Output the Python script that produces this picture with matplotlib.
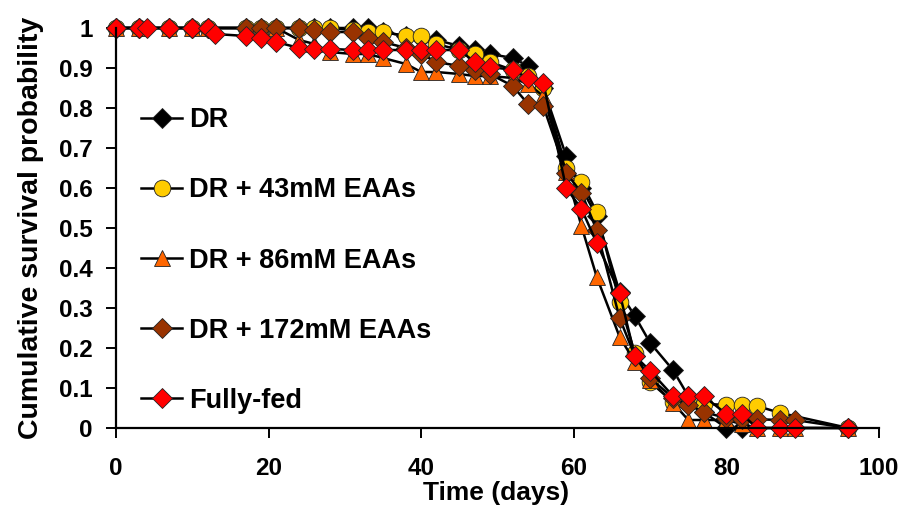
import matplotlib
matplotlib.use("Agg")
import matplotlib.pyplot as plt

plt.rcParams['font.family'] = ['Liberation Sans', 'DejaVu Sans']
plt.rcParams['font.weight'] = 'bold'

# Census days and cumulative survival for each diet
dr_days = [0, 3, 7, 10, 12, 17, 19, 21, 24, 26, 28, 31, 33, 35, 38, 40, 42, 45, 47,
           49, 52, 54, 56, 59, 61, 63, 66, 68, 70, 73, 75, 77, 80, 82]
dr_surv = [1, 1, 1, 1, 1, 1, 1, 1, 1, 1, 1, 1, 1, 0.99, 0.98, 0.975, 0.97, 0.955, 0.945,
           0.935, 0.925, 0.905, 0.85, 0.68, 0.60, 0.53, 0.34, 0.28, 0.213, 0.145, 0.08,
           0.04, 0, 0]

eaa43_days = [0, 3, 7, 10, 12, 17, 19, 21, 24, 26, 28, 31, 33, 35, 38, 40, 42, 45, 47,
              49, 52, 54, 56, 59, 61, 63, 66, 68, 70, 73, 75, 77, 80, 82, 84, 87, 96]
eaa43_surv = [1, 1, 1, 1, 1, 1, 1, 1, 1, 1, 1, 0.995, 0.99, 0.99, 0.98, 0.98, 0.96,
              0.945, 0.935, 0.915, 0.895, 0.88, 0.85, 0.65, 0.615, 0.54, 0.315, 0.187,
              0.115, 0.065, 0.062, 0.06, 0.058, 0.058, 0.055, 0.038, 0]

eaa86_days = [0, 3, 7, 10, 12, 17, 19, 21, 24, 26, 28, 31, 33, 35, 38, 40, 42, 45, 47,
              49, 52, 54, 56, 59, 61, 63, 66, 68, 70, 73, 75, 77, 80, 82, 84, 87, 89, 96]
eaa86_surv = [1, 1, 1, 1, 1, 1, 1, 1, 0.97, 0.96, 0.94, 0.935, 0.935, 0.925, 0.91, 0.89,
              0.89, 0.885, 0.88, 0.88, 0.875, 0.86, 0.83, 0.64, 0.505, 0.378, 0.228,
              0.165, 0.12, 0.063, 0.02, 0.02, 0.02, 0.01, 0, 0, 0, 0]

eaa172_days = [0, 3, 7, 10, 12, 17, 19, 21, 24, 26, 28, 31, 33, 35, 38, 40, 42, 45, 47,
               49, 52, 54, 56, 59, 61, 63, 66, 68, 70, 73, 75, 77, 80, 82, 84, 87, 89, 96]
eaa172_surv = [1, 1, 1, 1, 1, 1, 1, 1, 1, 0.995, 0.99, 0.99, 0.975, 0.965, 0.95, 0.935,
               0.915, 0.905, 0.895, 0.885, 0.855, 0.81, 0.805, 0.638, 0.588, 0.495,
               0.275, 0.18, 0.125, 0.075, 0.058, 0.04, 0.025, 0.022, 0.022, 0.02, 0.02, 0]

fed_days = [0, 3, 4, 7, 10, 12, 13, 17, 19, 21, 24, 26, 28, 31, 33, 35, 38, 40, 42, 45,
            47, 49, 52, 54, 56, 59, 61, 63, 66, 68, 70, 73, 75, 77, 80, 82, 84, 87, 89, 96]
fed_surv = [1, 1, 1, 1, 1, 1, 0.985, 0.98, 0.975, 0.965, 0.95, 0.948, 0.948, 0.945, 0.945,
            0.945, 0.945, 0.945, 0.945, 0.945, 0.915, 0.903, 0.895, 0.875, 0.863, 0.60,
            0.548, 0.463, 0.338, 0.18, 0.143, 0.08, 0.08, 0.08, 0.035, 0.035, 0, 0, 0, 0]

labels = ['DR', 'DR + 43mM EAAs', 'DR + 86mM EAAs', 'DR + 172mM EAAs', 'Fully-fed']

fig = plt.figure(figsize=(9.04, 5.08), dpi=100)
ax = fig.add_axes([116 / 904, 80 / 508, 763 / 904, 400 / 508])

series = [
    (dr_days, dr_surv, 'D', '#000000', 10.0),
    (eaa43_days, eaa43_surv, 'o', '#FFCC00', 12.0),
    (eaa86_days, eaa86_surv, '^', '#FF6600', 12.0),
    (eaa172_days, eaa172_surv, 'D', '#993300', 10.0),
    (fed_days, fed_surv, 'D', '#FF0000', 10.0),
]

for (d, s, m, c, ms), lab in zip(series, labels):
    ax.plot(d, s, color='black', lw=1.8, marker=m, markersize=ms,
            markerfacecolor=c, markeredgecolor='#222222', markeredgewidth=0.6,
            label=lab, clip_on=False)

ax.set_xlim(0, 100)
ax.set_ylim(0, 1)
ax.set_xticks(range(0, 101, 20))
ax.set_yticks([i / 10 for i in range(11)])
ax.set_yticklabels(['0', '0.1', '0.2', '0.3', '0.4', '0.5', '0.6', '0.7', '0.8', '0.9', '1'])

for side in ('top', 'right'):
    ax.spines[side].set_visible(False)
for side in ('left', 'bottom'):
    ax.spines[side].set_linewidth(1.6)

ax.tick_params(axis='both', direction='out', length=7, width=1.4)
ax.tick_params(axis='x', pad=14, labelsize=17.5)
ax.tick_params(axis='y', pad=10, labelsize=17.5)

ax.set_xlabel('Time (days)', fontsize=19, fontweight='bold')
ax.xaxis.set_label_coords(0.498, -0.133)
ax.set_ylabel('Cumulative survival probability', fontsize=20.5, fontweight='bold')
ax.yaxis.set_label_coords(-0.094, 0.5)

leg = ax.legend(loc='upper left', bbox_to_anchor=(0.019, 0.829), frameon=False,
                fontsize=19.5, handlelength=1.5, handletextpad=0.25,
                labelspacing=1.63, borderaxespad=0)

fig.savefig('out.png', dpi=100)
